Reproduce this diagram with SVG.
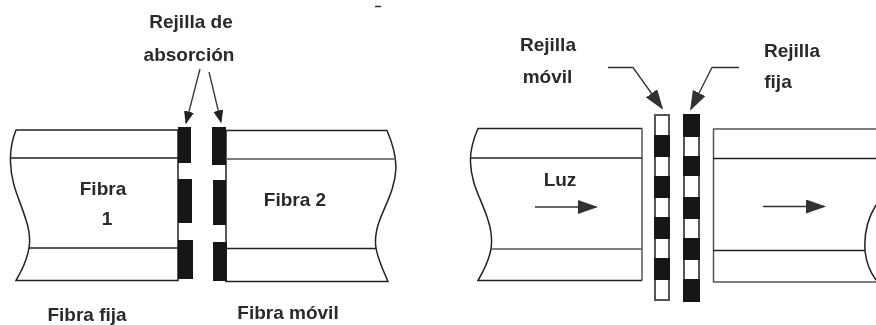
<svg xmlns="http://www.w3.org/2000/svg" width="876" height="325" viewBox="0 0 876 325">
<style>
text{font-family:"Liberation Sans",Arial,sans-serif;font-size:19px;font-weight:bold;fill:#2a2a2a;text-anchor:middle}
.l{fill:none;stroke:#222;stroke-width:1.5}
.g{fill:none;stroke:#555;stroke-width:1.5}
.b{fill:#161616}
.w{fill:#fff;stroke:#555;stroke-width:2}
.a{fill:none;stroke:#333;stroke-width:1.3;marker-end:url(#ah)}
.c{fill:none;stroke:#333;stroke-width:1.3;marker-end:url(#as)}
</style>
<defs>
<marker id="ah" viewBox="0 0 10 10" refX="9" refY="5" markerUnits="userSpaceOnUse" markerWidth="20" markerHeight="14" orient="auto" preserveAspectRatio="none"><path d="M0 0L10 5L0 10Z" fill="#333"/></marker>
<marker id="as" viewBox="0 0 10 10" refX="9" refY="5" markerUnits="userSpaceOnUse" markerWidth="13" markerHeight="10" orient="auto" preserveAspectRatio="none"><path d="M0 0L10 5L0 10Z" fill="#222"/></marker>
<filter id="s" x="-5%" y="-5%" width="110%" height="110%"><feGaussianBlur stdDeviation="0.45"/></filter>
</defs>
<rect width="876" height="325" fill="#fff"/>
<g filter="url(#s)">
<g id="fibra1">
<path class="l" d="M178 130H16C12 140 10 150 10.500 162C11 185 20 200 26 220C30 232 30 242 29 248C27 260 21 272 16 280.500H178Z"/>
<path class="l" d="M11 158H178M29 248H178"/>
<rect class="b" x="178" y="127" width="13" height="36"/>
<rect class="b" x="178" y="179" width="14" height="44"/>
<rect class="b" x="178" y="240" width="15" height="39"/>
<text x="103" y="195">Fibra</text><text x="107" y="225">1</text>
</g>
<g id="fibra2">
<path class="l" d="M226 130.500H387C392 142 396 155 396 168C395 190 385 205 379 222C375 234 375 242 376 248C378 260 384 272 388 281.500H226Z"/>
<path class="g" d="M226 159H396"/><path class="l" d="M226 248.500H376"/>
<rect class="b" x="212" y="127" width="14" height="38"/>
<rect class="b" x="213" y="180" width="13" height="45"/>
<rect class="b" x="213" y="242" width="14" height="39"/>
<text x="295" y="205.500">Fibra 2</text>
</g>
<g id="fibra-izq">
<path class="l" d="M642 128.500H478C473 140 470 150 470.500 162C471 185 482 200 488 220C492 232 492 242 491 249C489 260 483 272 478 280.500H642"/>
<path class="g" d="M642 128.500V280.500"/>
<path class="l" d="M470 158H642"/><path class="g" d="M491 249H642"/>
<text x="560" y="186">Luz</text>
</g>
<g id="fibra-der">
<path class="g" d="M876 129H713.500V282H876"/>
<path class="l" d="M713 158.500H876M713 250.500H865"/>
<path class="l" d="M876 205C868 218 864 235 865 250C866 262 870 272 876 280"/>
</g>
<g id="rejilla-movil">
<rect class="w" x="655" y="115" width="14" height="185"/>
<rect class="b" x="654" y="135" width="16" height="22"/>
<rect class="b" x="654" y="176" width="16" height="22"/>
<rect class="b" x="654" y="217" width="16" height="22"/>
<rect class="b" x="654" y="258" width="16" height="22"/>
</g>
<g id="rejilla-fija">
<rect class="w" x="684" y="115" width="15" height="186"/>
<rect class="b" x="683" y="114" width="17" height="23"/>
<rect class="b" x="683" y="156" width="17" height="20"/>
<rect class="b" x="683" y="197" width="17" height="22"/>
<rect class="b" x="683" y="238" width="17" height="22"/>
<rect class="b" x="683" y="279" width="17" height="23"/>
</g>
<g id="conectores">
<path class="c" d="M200 69L186 123"/>
<path class="c" d="M209 72L221 122"/>
<path class="a" d="M608 67.500H633L662 108"/>
<path class="a" d="M739 67.500H712L691 109"/>
<path class="a" d="M535 207H596"/>
<path class="a" d="M763 206.500H824"/>
</g>
<g id="etiquetas">
<text x="191" y="28">Rejilla de</text>
<text x="189" y="61">absorción</text>
<text x="87" y="321">Fibra fija</text>
<text x="288" y="319">Fibra móvil</text>
<text x="548" y="51">Rejilla</text>
<text x="547.500" y="83">móvil</text>
<text x="792" y="57">Rejilla</text>
<text x="778" y="88">fija</text>
</g>
<path d="M375 6.500H381" stroke="#333" stroke-width="1.5"/>
</g>
</svg>
